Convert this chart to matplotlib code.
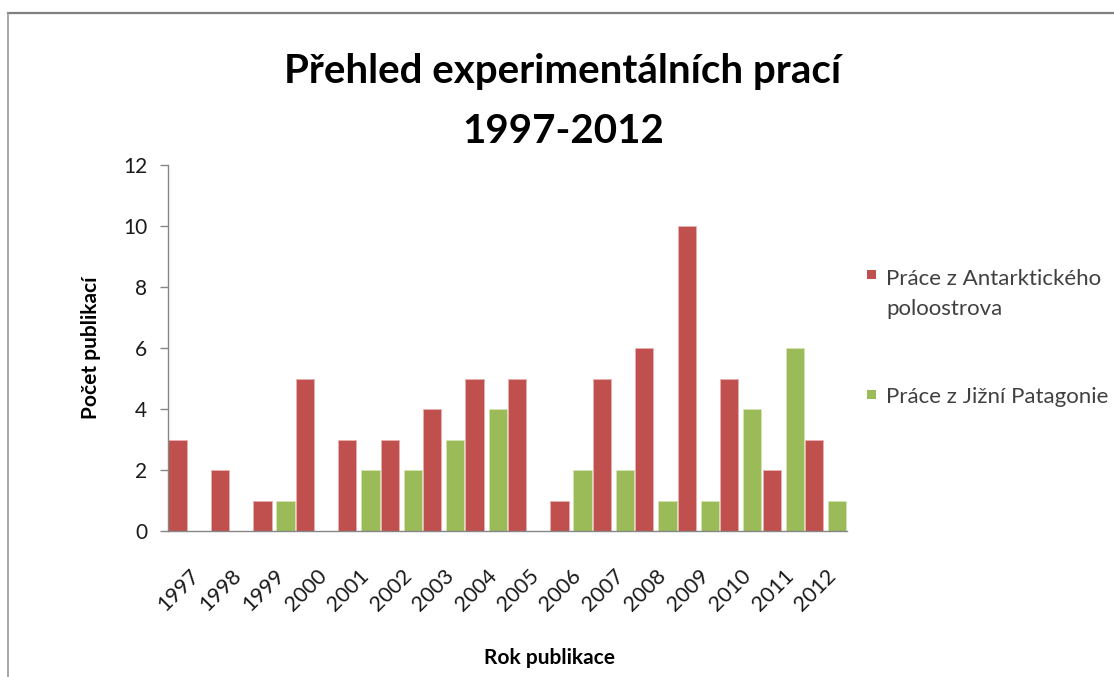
import matplotlib
matplotlib.use("Agg")
import matplotlib.pyplot as plt
from matplotlib.lines import Line2D
from matplotlib.patches import Rectangle
import numpy as np

years = ["1997", "1998", "1999", "2000", "2001", "2002", "2003", "2004",
         "2005", "2006", "2007", "2008", "2009", "2010", "2011", "2012"]
antarktida = [3, 2, 1, 5, 3, 3, 4, 5, 5, 1, 5, 6, 10, 5, 2, 3]
patagonie = [0, 0, 1, 0, 2, 2, 3, 4, 0, 2, 2, 1, 1, 4, 6, 1]
series_names = [["Práce z Antarktického", "poloostrova"], ["Práce z Jižní Patagonie"]]
yticks = [0, 2, 4, 6, 8, 10, 12]
title_lines = ["Přehled experimentálních prací", "1997-2012"]

RED = "#C0504D"
GREEN = "#9BBB59"
plt.rcParams["font.family"] = ["Lato", "DejaVu Sans"]

W, H = 1114, 677
fig = plt.figure(figsize=(W / 100, H / 100), dpi=100)

def fx(px):
    return px / W

def fy(py):
    return 1 - py / H

ax = fig.add_axes([fx(168), fy(531), fx(847) - fx(168), fy(165) - fy(531)])

idx = np.arange(len(years))
bw = 0.43
b1 = ax.bar(idx + 0.01, antarktida, width=bw, align="edge", color=RED,
            edgecolor="#E8B0AE", linewidth=0.6)
b2 = ax.bar(idx + 0.555, patagonie, width=bw, align="edge", color=GREEN,
            edgecolor="#D4E4B8", linewidth=0.6)

ax.set_xlim(0, len(years))
ax.set_ylim(0, 12)
ax.set_yticks(yticks)
ax.set_yticklabels([str(v) for v in yticks], fontsize=15, color="#1a1a1a")
ax.tick_params(axis="y", direction="out", length=6, width=1, color="#868686", pad=9)

ax.set_xticks(idx + 0.5)
ax.set_xticklabels(years, fontsize=15.5, color="#1a1a1a")
ax.tick_params(axis="x", length=0, pad=25)
for lab in ax.get_xticklabels():
    lab.set_rotation(45)
    lab.set_ha("right")
    lab.set_va("top")
    lab.set_rotation_mode("anchor")

for s in ["top", "right"]:
    ax.spines[s].set_visible(False)
for s in ["left", "bottom"]:
    ax.spines[s].set_color("#868686")
    ax.spines[s].set_linewidth(1)

# Title (two lines, baselines as in the reference)
fig.text(fx(563), fy(83), title_lines[0], ha="center", va="baseline",
         fontsize=29, fontweight="bold", color="black")
fig.text(fx(563), fy(143), title_lines[1], ha="center", va="baseline",
         fontsize=29, fontweight="bold", color="black")

ax.set_ylabel("Počet publikací", fontsize=15, fontweight="bold", labelpad=16)
fig.text(fx(550), fy(664), "Rok publikace", ha="center", va="baseline",
         fontsize=15, fontweight="bold")

# Legend (manual, Excel-like)
leg_items = [(b1, series_names[0], 285, 270), (b2, series_names[1], 403, 390)]
for cont, lines, base_px, sq_top in leg_items:
    col = cont.patches[0].get_facecolor()
    fig.patches.append(Rectangle((fx(867), fy(sq_top + 9)), fx(9), fy(0) - fy(9),
                                 transform=fig.transFigure, facecolor=col,
                                 edgecolor="none"))
    for i, line in enumerate(lines):
        fig.text(fx(886), fy(base_px + 30 * i), line, ha="left", va="baseline",
                 fontsize=16, color="#404040")

# Frame lines
fig.lines.append(Line2D([fx(8), 1], [fy(13), fy(13)], transform=fig.transFigure,
                        color="#7f7f7f", linewidth=1.6))
fig.lines.append(Line2D([fx(8), fx(8)], [fy(13), 0], transform=fig.transFigure,
                        color="#9a9a9a", linewidth=1.2))

fig.savefig("out.png", dpi=100)
